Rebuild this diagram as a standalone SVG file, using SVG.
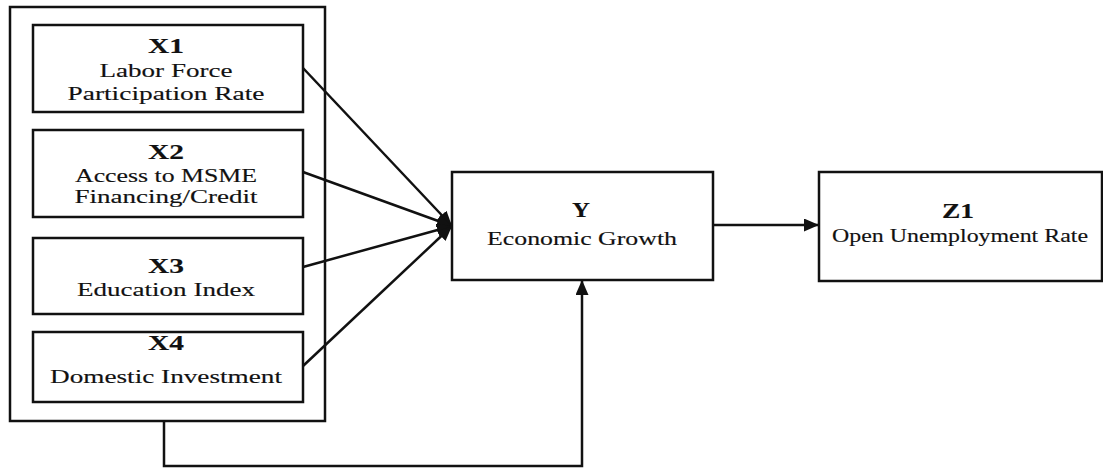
<svg xmlns="http://www.w3.org/2000/svg" width="1103" height="469" viewBox="0 0 1103 469">
<style>
.box{fill:#fff;stroke:#111;stroke-width:2.5}
.frame{fill:none;stroke:#111;stroke-width:2.5}
.ln{fill:none;stroke:#111;stroke-width:2.5}
text{font-family:"Liberation Serif","Times New Roman",serif;fill:#111;text-anchor:middle;stroke:#111;stroke-width:0.15}
.b{font-weight:bold;font-size:21px}
.r{font-size:19.5px}
</style>
<defs>
<marker id="ah" viewBox="0 0 15 13" refX="15" refY="6.5" markerWidth="15" markerHeight="13" markerUnits="userSpaceOnUse" orient="auto">
<path d="M0,0 L15,6.5 L0,13 Z" fill="#111"/>
</marker>
</defs>
<rect width="1103" height="469" fill="#fff"/>
<g id="group-x">
<rect class="frame" x="10" y="7" width="315" height="414"/>
</g>
<g id="x1">
<rect class="box" x="33" y="25" width="270" height="87"/>
<text class="b" x="166" y="53" textLength="36" lengthAdjust="spacingAndGlyphs">X1</text>
<text class="r" x="166" y="77" textLength="133" lengthAdjust="spacingAndGlyphs">Labor Force</text>
<text class="r" x="166" y="100" textLength="197" lengthAdjust="spacingAndGlyphs">Participation Rate</text>
</g>
<g id="x2">
<rect class="box" x="33" y="130" width="270" height="87"/>
<text class="b" x="166" y="159" textLength="36" lengthAdjust="spacingAndGlyphs">X2</text>
<text class="r" x="166" y="182" textLength="182" lengthAdjust="spacingAndGlyphs">Access to MSME</text>
<text class="r" x="166" y="203" textLength="183" lengthAdjust="spacingAndGlyphs">Financing/Credit</text>
</g>
<g id="x3">
<rect class="box" x="33" y="238" width="270" height="76"/>
<text class="b" x="166" y="273" textLength="36" lengthAdjust="spacingAndGlyphs">X3</text>
<text class="r" x="166" y="296" textLength="178" lengthAdjust="spacingAndGlyphs">Education Index</text>
</g>
<g id="x4">
<rect class="box" x="33" y="332" width="270" height="70"/>
<text class="b" x="166" y="350" textLength="36" lengthAdjust="spacingAndGlyphs">X4</text>
<text class="r" x="166" y="383" textLength="232" lengthAdjust="spacingAndGlyphs">Domestic Investment</text>
</g>
<g id="y">
<rect class="box" x="452" y="172" width="261" height="108"/>
<text class="b" x="581" y="217" textLength="18" lengthAdjust="spacingAndGlyphs">Y</text>
<text class="r" x="582" y="245" textLength="190" lengthAdjust="spacingAndGlyphs">Economic Growth</text>
</g>
<g id="z1">
<rect class="box" x="819" y="172" width="283" height="109"/>
<text class="b" x="958" y="218" textLength="32" lengthAdjust="spacingAndGlyphs">Z1</text>
<text class="r" x="960" y="242" textLength="256" lengthAdjust="spacingAndGlyphs">Open Unemployment Rate</text>
</g>
<g id="connectors">
<line class="ln" x1="303" y1="68" x2="452" y2="226" marker-end="url(#ah)"/>
<line class="ln" x1="303" y1="172" x2="452" y2="226" marker-end="url(#ah)"/>
<line class="ln" x1="303" y1="267" x2="452" y2="226" marker-end="url(#ah)"/>
<line class="ln" x1="303" y1="366" x2="452" y2="226" marker-end="url(#ah)"/>
<line class="ln" x1="713" y1="225" x2="819" y2="225" marker-end="url(#ah)"/>
<polyline class="ln" points="164,421 164,466 582,466 582,280" marker-end="url(#ah)"/>
</g>
</svg>
